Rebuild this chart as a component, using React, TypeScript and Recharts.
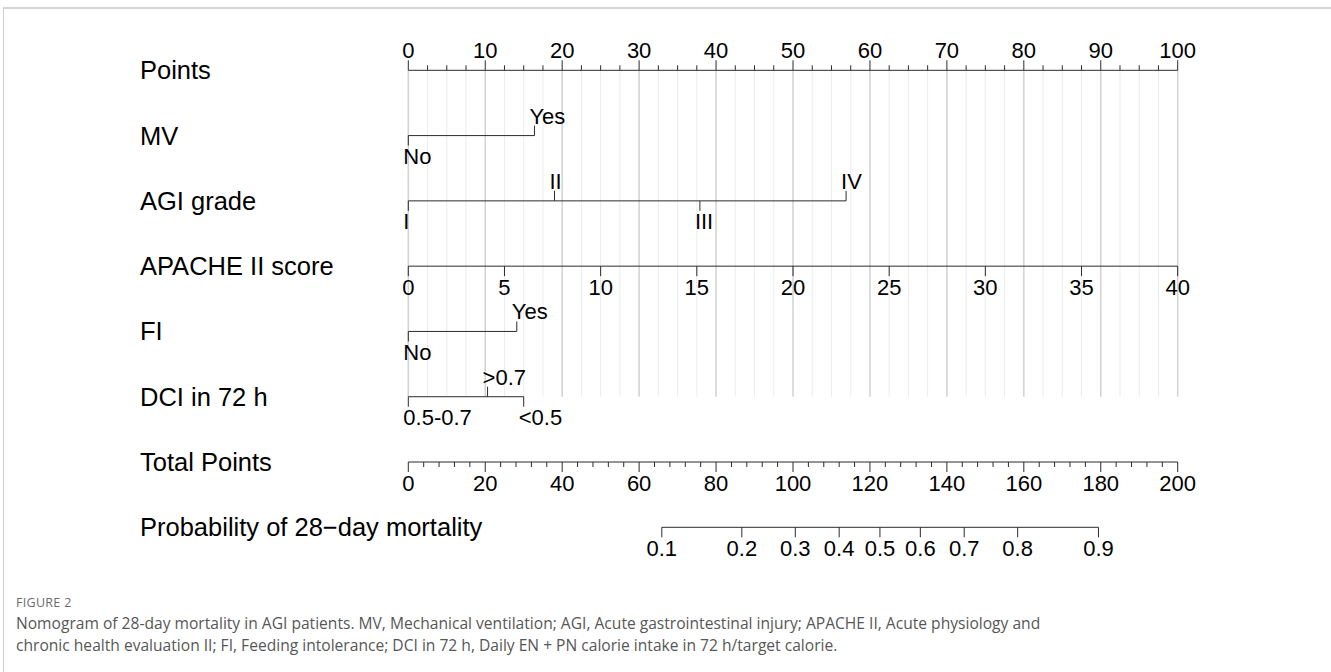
import { ComposedChart, XAxis, YAxis, Scatter, ReferenceLine } from 'recharts';

// row names (top to bottom)
const rowNames = [
  'Points',
  'MV',
  'AGI grade',
  'APACHE II score',
  'FI',
  'DCI in 72 h',
  'Total Points',
  'Probability of 28\u2212day mortality'
];

// points scale
const pointLabels = [0, 10, 20, 30, 40, 50, 60, 70, 80, 90, 100];

// categorical predictors: level names and their points
const mvLevels = ['No', 'Yes'];
const mvPoints = [0, 16.4];
const agiLevels = ['I', 'II', 'III', 'IV'];
const agiPoints = [0, 19.0, 37.9, 56.9];
const fiLevels = ['No', 'Yes'];
const fiPoints = [0, 14.1];
const dciLevels = ['0.5-0.7', '>0.7', '<0.5'];
const dciPoints = [0, 10.3, 15.0];

// APACHE II score (40 -> 100 points)
const apacheLabels = [0, 5, 10, 15, 20, 25, 30, 35, 40];
const apacheMax = 40;

// total points axis
const totalLabels = [0, 20, 40, 60, 80, 100, 120, 140, 160, 180, 200];
const totalMax = 200;

// probability axis: label -> total points
const probLabels = ['0.1', '0.2', '0.3', '0.4', '0.5', '0.6', '0.7', '0.8', '0.9'];
const probTotalPoints = [65.9, 86.7, 100.6, 112.0, 122.6, 133.1, 144.5, 158.4, 179.4];

type Mark = { x: number; y: number; label?: string; up: boolean; major: boolean; cat?: boolean };

const FONT = 'Liberation Sans, Arial, Helvetica, sans-serif';

function categorical(row: number, levels: string[], pts: number[]): Mark[] {
  const order = pts.map((p, i) => i).sort((a, b) => pts[a] - pts[b]);
  return order.map((i, k) => ({ x: pts[i], y: row, label: levels[i], up: k % 2 === 1, major: true, cat: true }));
}

function pointsRow(): Mark[] {
  const out: Mark[] = [];
  for (let i = 0; i < pointLabels.length; i++) {
    const v = pointLabels[i];
    out.push({ x: v, y: 0, label: String(v), up: true, major: true });
    if (i < pointLabels.length - 1) {
      const step = (pointLabels[i + 1] - v) / 4;
      for (let k = 1; k < 4; k++) out.push({ x: v + k * step, y: 0, up: true, major: false });
    }
  }
  return out;
}

function totalRow(): Mark[] {
  const out: Mark[] = [];
  for (let i = 0; i < totalLabels.length; i++) {
    const v = totalLabels[i];
    out.push({ x: (v / totalMax) * 100, y: 6, label: String(v), up: false, major: true });
    if (i < totalLabels.length - 1) {
      const step = (totalLabels[i + 1] - v) / 5;
      for (let k = 1; k < 5; k++) out.push({ x: ((v + k * step) / totalMax) * 100, y: 6, up: false, major: false });
    }
  }
  return out;
}

const rows: Mark[][] = [
  pointsRow(),
  categorical(1, mvLevels, mvPoints),
  categorical(2, agiLevels, agiPoints),
  apacheLabels.map((v) => ({ x: (v / apacheMax) * 100, y: 3, label: String(v), up: false, major: true })),
  categorical(4, fiLevels, fiPoints),
  categorical(5, dciLevels, dciPoints),
  totalRow(),
  probLabels.map((l, i) => ({ x: (probTotalPoints[i] / totalMax) * 100, y: 7, label: l, up: false, major: true }))
];

// vertical guide lines every 2.5 points
const gridXs: number[] = pointsRow().map((m) => m.x);

function MarkShape(props: any) {
  const { cx, cy, payload } = props;
  const p = payload as Mark;
  const len = p.major ? 10 : 5;
  const dir = p.up ? -1 : 1;
  return (
    <g>
      <line x1={cx} y1={cy} x2={cx} y2={cy + dir * len} stroke="#2b2b2b" strokeWidth={1} />
      {p.label !== undefined && (
        <text
          x={p.cat ? cx - 5 : cx}
          y={p.up ? cy - 12 : cy + 28.5}
          textAnchor={p.cat ? 'start' : 'middle'}
          fontSize={22}
          fontFamily={FONT}
          fill="#000"
        >
          {p.label}
        </text>
      )}
    </g>
  );
}

function RowLabel(props: any) {
  const { y, payload } = props;
  return (
    <text x={140} y={y + 9} fontSize={25.5} fontFamily={FONT} fill="#000" textAnchor="start">
      {rowNames[payload.value]}
    </text>
  );
}

export default function App() {
  return (
    <div style={{ position: 'fixed', left: 0, top: 0, width: 1331, height: 672, background: '#fff', overflow: 'hidden' }}>
      <div
        style={{
          position: 'absolute',
          left: 3,
          top: 7,
          width: 1400,
          height: 700,
          borderTop: '2px solid #d4d4d4',
          borderLeft: '1px solid #cfcfcf'
        }}
      />
      <div style={{ position: 'absolute', left: 0, top: 0 }}>
        <ComposedChart width={1331} height={580} margin={{ top: 70.3, right: 153.3, bottom: 52.7, left: 0 }}>
          <XAxis type="number" dataKey="x" domain={[0, 100]} hide />
          <YAxis
            type="number"
            dataKey="y"
            domain={[0, 7]}
            reversed
            ticks={[0, 1, 2, 3, 4, 5, 6, 7]}
            interval={0}
            width={408.3}
            axisLine={false}
            tickLine={false}
            tick={<RowLabel />}
          />
          {gridXs.map((gx) => (
            <ReferenceLine
              key={'g' + gx}
              segment={[{ x: gx, y: 0 }, { x: gx, y: 5 }]}
              stroke={gx % 10 === 0 ? '#d2d2d2' : '#ececec'}
              strokeWidth={gx % 10 === 0 ? 1.5 : 1}
            />
          ))}
          {rows.map((r, i) => {
            const xs = r.map((m) => m.x);
            return (
              <ReferenceLine
                key={'l' + i}
                segment={[{ x: Math.min(...xs), y: i }, { x: Math.max(...xs), y: i }]}
                stroke="#2b2b2b"
                strokeWidth={1}
              />
            );
          })}
          {rows.map((r, i) => (
            <Scatter key={'s' + i} data={r} dataKey="y" isAnimationActive={false} shape={<MarkShape />} />
          ))}
        </ComposedChart>
      </div>
      <div
        style={{
          position: 'absolute',
          left: 16,
          top: 595,
          fontFamily: '"Open Sans", sans-serif',
          fontSize: 12.5,
          lineHeight: '16px',
          color: '#6b6b6b',
          letterSpacing: 0.3
        }}
      >
        FIGURE 2
      </div>
      <div
        style={{
          position: 'absolute',
          left: 16,
          top: 612,
          fontFamily: '"Open Sans", sans-serif',
          fontSize: 15.6,
          lineHeight: '22px',
          color: '#575757',
          whiteSpace: 'nowrap'
        }}
      >
        Nomogram of 28-day mortality in AGI patients. MV, Mechanical ventilation; AGI, Acute gastrointestinal injury; APACHE II, Acute physiology and
        <br />
        chronic health evaluation II; FI, Feeding intolerance; DCI in 72 h, Daily EN + PN calorie intake in 72 h/target calorie.
      </div>
    </div>
  );
}
